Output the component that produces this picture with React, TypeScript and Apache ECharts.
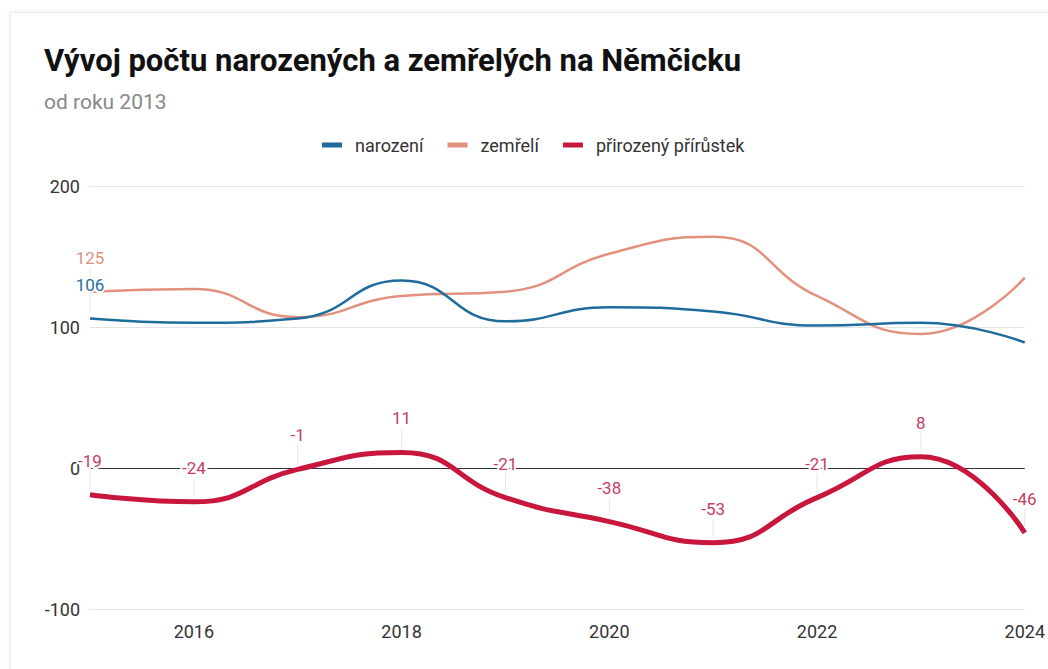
import React, { useEffect, useRef } from "react";
import * as echarts from "echarts";

const years = [2015, 2016, 2017, 2018, 2019, 2020, 2021, 2022, 2023, 2024];
const births = [106, 103, 106, 133, 104, 114, 111, 101, 103, 89];
const deaths = [125, 127, 107, 122, 125, 152, 164, 122, 95, 135];
const increase = [-19, -24, -1, 11, -21, -38, -53, -21, 8, -46];
const yTicks = [-100, 0, 100, 200];

const FONT = "Roboto, 'Noto Sans', sans-serif";
const C_BIRTH = "#1f6c9c";
const C_DEATH = "#e2917c";
const C_INC = "#c8163d";

export default function App() {
  const ref = useRef<HTMLDivElement>(null);
  useEffect(() => {
    if (!ref.current) return;
    const chart = echarts.init(ref.current, null, { renderer: "svg" });

    const labelRender = (color: string) => (params: any, api: any) => {
      const x = api.value(0);
      const y = api.value(1);
      const p = api.coord([x, y]);
      return {
        type: "group",
        children: [
          {
            type: "line",
            shape: { x1: p[0], y1: p[1] - 6, x2: p[0], y2: p[1] - 24 },
            style: { stroke: "#e6e6e6", lineWidth: 1 },
          },
          {
            type: "text",
            style: {
              text: String(y),
              x: p[0],
              y: p[1] - 34,
              align: "center",
              verticalAlign: "middle",
              fill: color,
              fontSize: 17,
              fontFamily: FONT,
              stroke: "#fff",
              lineWidth: 4,
            },
          },
        ],
      };
    };

    const smooth = 0.5;

    chart.setOption({
      animation: false,
      backgroundColor: "transparent",
      title: [
        {
          text: "Vývoj počtu narozených a zemřelých na Němčicku",
          left: 39,
          top: 40,
          textStyle: { fontFamily: FONT, fontSize: 31, fontWeight: "bold", color: "#111" },
        },
        {
          text: "od roku 2013",
          left: 39,
          top: 86,
          textStyle: { fontFamily: FONT, fontSize: 21, fontWeight: "normal", color: "#888" },
        },
      ],
      legend: {
        top: 131,
        left: 317,
        itemWidth: 20,
        itemHeight: 5,
        itemGap: 24,
        icon: "rect",
        textStyle: { fontFamily: FONT, fontSize: 18, color: "#333", padding: [0, 0, 0, 8] },
        data: ["narození", "zemřelí", "přirozený přírůstek"],
      },
      grid: { left: 90, right: 22, top: 186, bottom: 60, containLabel: false },
      xAxis: {
        type: "value",
        min: 2015,
        max: 2024,
        interval: 1,
        axisLine: { show: false },
        axisTick: { show: false },
        splitLine: { show: false },
        axisLabel: {
          margin: 13,
          fontFamily: FONT,
          fontSize: 18,
          color: "#333",
          formatter: (v: number) => (v % 2 === 0 ? String(v) : ""),
        },
      },
      yAxis: {
        type: "value",
        min: yTicks[0],
        max: yTicks[yTicks.length - 1],
        interval: 100,
        axisLine: { show: false },
        axisTick: { show: false },
        splitLine: { lineStyle: { color: "#e3e3e3", width: 1 } },
        axisLabel: { margin: 10, fontFamily: FONT, fontSize: 18, color: "#333" },
      },
      series: [
        {
          name: "narození",
          type: "line",
          smooth,
          showSymbol: false,
          symbol: "none",
          color: C_BIRTH,
          lineStyle: { width: 2.5, color: C_BIRTH },
          data: years.map((y, i) => [y, births[i]]),
          z: 3,
        },
        {
          name: "zemřelí",
          type: "line",
          smooth,
          showSymbol: false,
          symbol: "none",
          color: C_DEATH,
          lineStyle: { width: 2.5, color: C_DEATH },
          data: years.map((y, i) => [y, deaths[i]]),
          z: 2,
        },
        {
          name: "přirozený přírůstek",
          type: "line",
          smooth,
          showSymbol: false,
          symbol: "none",
          color: C_INC,
          lineStyle: { width: 5, color: C_INC },
          data: years.map((y, i) => [y, increase[i]]),
          z: 4,
          markLine: {
            silent: true,
            symbol: "none",
            label: { show: false },
            lineStyle: { color: "#333", width: 1, type: "solid" },
            data: [{ yAxis: 0 }],
            z: 1,
          },
        },
        {
          type: "custom",
          renderItem: labelRender("#c4405f"),
          data: years.map((y, i) => [y, increase[i]]),
          z: 10,
          silent: true,
        },
        {
          type: "custom",
          renderItem: labelRender(C_DEATH),
          data: [[years[0], deaths[0]]],
          z: 10,
          silent: true,
        },
        {
          type: "custom",
          renderItem: labelRender(C_BIRTH),
          data: [[years[0], births[0]]],
          z: 10,
          silent: true,
        },
      ],
    });
    return () => chart.dispose();
  }, []);

  return (
    <div style={{ position: "fixed", left: 0, top: 0, width: 1048, height: 669, background: "#fff", overflow: "hidden" }}>
      <div
        style={{
          position: "absolute",
          left: 10,
          top: 12,
          width: 1080,
          height: 700,
          background: "#fff",
          border: "1px solid #ececec",
          boxShadow: "0 0 5px rgba(0,0,0,0.08)",
        }}
      />
      <div ref={ref} style={{ position: "absolute", left: 0, top: 0, width: 1048, height: 669 }} />
    </div>
  );
}
